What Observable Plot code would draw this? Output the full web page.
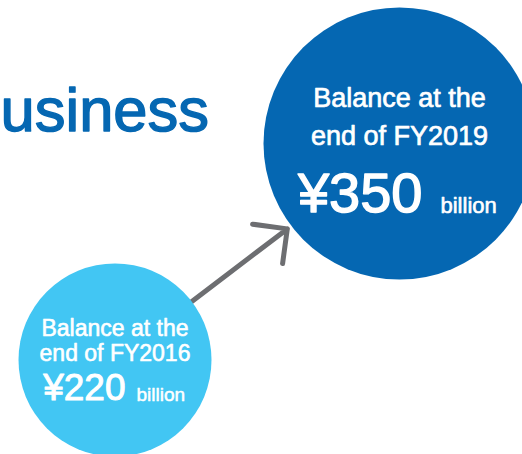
<!DOCTYPE html>
<html>
<head>
<meta charset="utf-8">
<script src="https://cdn.jsdelivr.net/npm/d3@7"></script>
<script src="https://cdn.jsdelivr.net/npm/@observablehq/plot@0.6"></script>
<style>
  html, body { margin: 0; padding: 0; background: #ffffff; }
  #chart svg { display: block; }
</style>
</head>
<body>
<div id="chart"></div>
<script>
// ---- data ----
const years = [2016, 2019];
const fyLabels = ["FY2016", "FY2019"];
const balances = [220, 350];            // ¥ billion
const unitLabel = "billion";
const headingText = "Business";

const data = years.map((y, i) => ({
  year: y,
  fy: fyLabels[i],
  value: balances[i],
  caption: `Balance at the\nend of ${fyLabels[i]}`,
  amount: `¥${balances[i]}`
}));
const arrowData = [{x1: years[0], y1: balances[0], x2: years[1], y2: balances[1]}];

const colors = {FY2016: "#42c6f3", FY2019: "#0567b2"};
const font = "'Liberation Sans', Arial, Helvetica, sans-serif";

const small = data.filter(d => d.fy === "FY2016");
const big = data.filter(d => d.fy === "FY2019");

const white = {fill: "white", stroke: "white", paintOrder: "stroke"};

const chart = Plot.plot({
  width: 522,
  height: 454,
  margin: 0,
  style: {fontFamily: font, background: "#ffffff", overflow: "hidden"},
  x: {type: "linear", domain: [2016, 2019], range: [114.5, 399], axis: null},
  y: {type: "linear", domain: [220, 350], range: [359.5, 143], axis: null},
  r: {type: "linear", domain: [220, 350], range: [96.5, 136]},
  marks: [
    Plot.text([headingText], {
      frameAnchor: "top-left", dx: -41, dy: 130, lineAnchor: "bottom",
      textAnchor: "start", fontSize: 61.5, fill: "#0567b2", stroke: "#0567b2",
      strokeWidth: 1.4, paintOrder: "stroke", fontFamily: font
    }),
    Plot.arrow(arrowData, {
      x1: "x1", y1: "y1", x2: "x2", y2: "y2",
      stroke: "#6d6e71", strokeWidth: 5, headAngle: 90, headLength: 10.5,
      insetStart: 90, insetEnd: 141
    }),
    Plot.dot(data, {x: "year", y: "value", r: "value", fill: d => colors[d.fy], stroke: "none"}),
    // big circle texts
    Plot.text(big, {x: "year", y: "value", text: "caption", ...white, strokeWidth: 0.7, fontSize: 27,
      lineHeight: 1.4, lineAnchor: "bottom", textAnchor: "middle", dy: 1}),
    Plot.text(big, {x: "year", y: "value", text: "amount", ...white, strokeWidth: 1.4, fontSize: 56,
      lineAnchor: "bottom", textAnchor: "end", dx: 23, dy: 68}),
    Plot.text(big, {x: "year", y: "value", text: () => unitLabel, ...white, strokeWidth: 0.6, fontSize: 22,
      lineAnchor: "bottom", textAnchor: "start", dx: 41, dy: 69}),
    // small circle texts
    Plot.text(small, {x: "year", y: "value", text: "caption", ...white, strokeWidth: 0.6, fontSize: 23,
      lineHeight: 1.1, lineAnchor: "bottom", textAnchor: "middle", dy: 1}),
    Plot.text(small, {x: "year", y: "value", text: "amount", ...white, strokeWidth: 1, fontSize: 37,
      lineAnchor: "bottom", textAnchor: "end", dx: 10.5, dy: 40}),
    Plot.text(small, {x: "year", y: "value", text: () => unitLabel, ...white, strokeWidth: 0.5, fontSize: 19,
      lineAnchor: "bottom", textAnchor: "start", dx: 21.5, dy: 40.5})
  ]
});
document.getElementById("chart").append(chart);
</script>
</body>
</html>
